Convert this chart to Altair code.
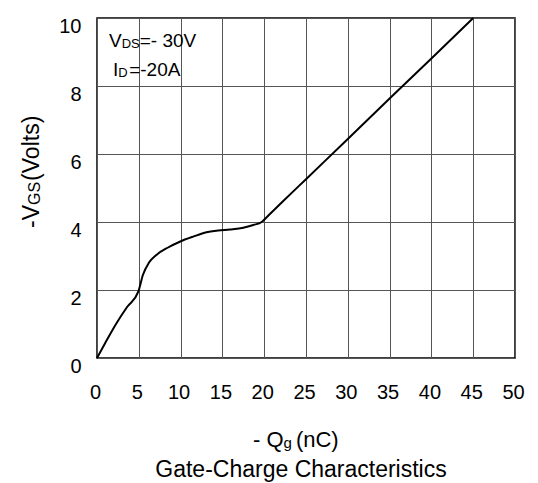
import altair as alt
import pandas as pd

# Data
qg = [0, 1.0, 2.35, 3.6, 4.94, 5.5, 6.2, 7.1, 8.5, 9.9, 11.5, 13.1, 14.5, 15.9, 17.5, 18.7, 19.7,
      20.5, 22, 25, 30, 35, 40, 45]
vgs = [0, 0.45, 1.03, 1.5, 1.95, 2.45, 2.8, 3.03, 3.25, 3.42, 3.57, 3.70, 3.75, 3.78, 3.83, 3.91, 4.0,
       4.19, 4.55, 5.26, 6.44, 7.63, 8.81, 10]
x_ticks = [0, 5, 10, 15, 20, 25, 30, 35, 40, 45, 50]
y_ticks = [0, 2, 4, 6, 8, 10]

vds_text = ["V", "DS", "=- 30V"]
id_text = ["I", "D", "=-20A"]
xtitle_text = ["- Q", "g", " (nC)"]
ytitle_text = ["-V", "GS", "(Volts)"]
caption_text = "Gate-Charge Characteristics"

FONT = "Liberation Sans"
PW, PH = 418, 340

# Arial / Liberation Sans advance widths (per 1000 em)
ADV = {' ': 278, '(': 333, ')': 333, '-': 333, '=': 584, '0': 556, '2': 556, '3': 556,
       'A': 667, 'C': 722, 'D': 722, 'G': 778, 'I': 278, 'Q': 778, 'S': 667, 'V': 667,
       'g': 556, 'l': 222, 'n': 556, 'o': 556, 's': 500, 't': 278}


def tw(s, fs):
    return sum(ADV.get(c, 556) for c in s) * fs / 1000.0


one = pd.DataFrame({"k": [0]})


def rich(parts, x0, y0, fs, sfs, shift=1.0, rotated=False, gap=0.0):
    layers = []
    pos = 0.0
    for i, p in enumerate(parts):
        sub = (i % 2 == 1)
        f = sfs if sub else fs
        if rotated:
            x = x0 + (shift if sub else 0)
            y = y0 - pos
            m = alt.Chart(one).mark_text(text=p, font=FONT, fontSize=f, angle=270,
                                         align="left", baseline="alphabetic", color="black")
        else:
            x = x0 + pos
            y = y0 + (shift if sub else 0)
            m = alt.Chart(one).mark_text(text=p, font=FONT, fontSize=f,
                                         align="left", baseline="alphabetic", color="black")
        layers.append(m.encode(x=alt.value(x), y=alt.value(y)))
        pos += tw(p, f) + (gap if sub else 0)
    return layers


df = pd.DataFrame({"qg": qg, "vgs": vgs})

curve = alt.Chart(df).mark_line(color="black", strokeWidth=2, interpolate="monotone").encode(
    x=alt.X("qg:Q", scale=alt.Scale(domain=[0, 50], nice=False, zero=False),
            axis=alt.Axis(values=x_ticks, title=None, grid=True, ticks=False, domain=False,
                          labelPadding=40, labelBaseline="alphabetic", labelOffset=-2,
                          labelFontSize=20, labelFlush=False, labelOverlap=False)),
    y=alt.Y("vgs:Q", scale=alt.Scale(domain=[0, 10], nice=False),
            axis=alt.Axis(values=y_ticks, title=None, grid=True, ticks=False, domain=False,
                          labelPadding=16, labelBaseline="alphabetic", labelOffset=14,
                          labelFontSize=20, labelFlush=False, labelOverlap=False)),
)

layers = [curve]
layers += rich(vds_text, 12, 28.5, 19, 13, shift=1.5)
layers += rich(id_text, 16, 57.5, 19, 13, shift=1.5, gap=1.5)
layers += rich(xtitle_text, 156, 429, 22, 15, shift=1.0, gap=4.0)
layers += rich(ytitle_text, -58, 210, 23, 16, shift=1.0, rotated=True, gap=1.0)
layers.append(alt.Chart(one).mark_text(text=caption_text, font=FONT, fontSize=23, align="center",
                                       baseline="alphabetic", color="black")
              .encode(x=alt.value(204), y=alt.value(459)))

chart = alt.layer(*layers).properties(
    width=PW, height=PH,
    padding={"left": 89, "top": 10, "right": 15, "bottom": 125},
    autosize=alt.AutoSizeParams(type="none"),
).configure_view(stroke="black", strokeWidth=1.5).configure_axis(
    gridColor="#555555", gridWidth=1, gridOpacity=1, labelFont=FONT, labelColor="black"
)

chart.save("out.html", embed_options={"renderer": "svg", "actions": False})
